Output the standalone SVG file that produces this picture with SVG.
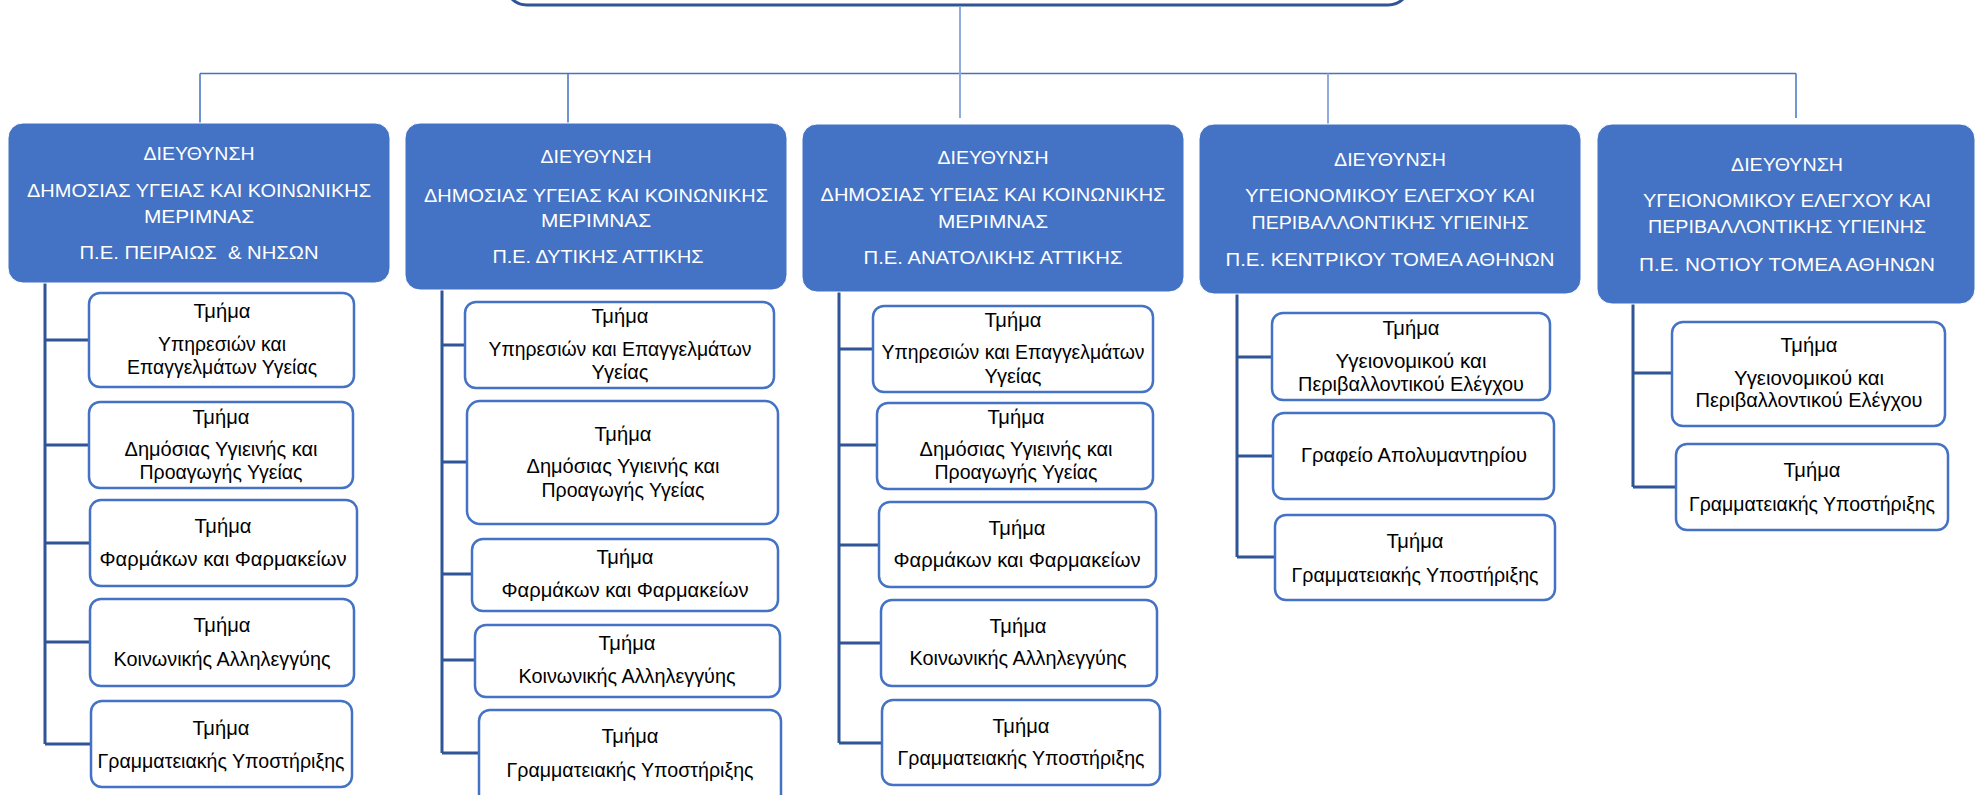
<svg xmlns="http://www.w3.org/2000/svg" width="1976" height="795" viewBox="0 0 1976 795">
<style>
.top{fill:#ffffff;stroke:#2F5597;stroke-width:3}
.hdr{fill:#4472C4;stroke:#ffffff;stroke-width:1}
.ht{font-family:"Liberation Sans","Noto Sans",sans-serif;font-size:19px;fill:#ffffff;text-anchor:middle}
.sub{fill:#ffffff;stroke:#4472C4;stroke-width:2.5}
.st{font-family:"Liberation Sans","Noto Sans",sans-serif;font-size:20px;fill:#000000;text-anchor:middle}
.spine{stroke:#2F5597;stroke-width:3;fill:none}
.conn{stroke:#4472C4;stroke-width:1.5;fill:none}
.connl{stroke:#8FAADC;stroke-width:2;fill:none}
</style>
<rect width="1976" height="795" fill="#ffffff"/>
<g id="top-node"><rect class="top" x="505" y="-60" width="905" height="65" rx="22"/></g>
<g id="connectors">
<line class="conn" x1="200" y1="73.5" x2="1796" y2="73.5"/>
<line class="conn" x1="200" y1="73.5" x2="200" y2="123"/>
<line class="conn" x1="568" y1="73.5" x2="568" y2="123"/>
<line class="connl" x1="960" y1="6" x2="960" y2="118"/>
<line class="connl" x1="1328" y1="73.5" x2="1328" y2="124"/>
<line class="conn" x1="1796" y1="73.5" x2="1796" y2="118"/>
<path class="spine" d="M45 283V744M45 340H89M45 445H89M45 543H90M45 642H90M45 744H91"/>
<path class="spine" d="M442 290V753M442 345H465M442 462H467M442 574H472M442 660H475M442 753H479"/>
<path class="spine" d="M839 292V743M839 349H873M839 445H877M839 545H879M839 643H881M839 743H882"/>
<path class="spine" d="M1237 294V557M1237 357H1272M1237 456H1273M1237 557H1275"/>
<path class="spine" d="M1633 304V487M1633 373H1672M1633 487H1676"/>
</g>
<g id="dir1"><rect class="hdr" x="8" y="123" width="382" height="160" rx="15"/>
<text class="ht" x="199" y="160" textLength="111" lengthAdjust="spacingAndGlyphs">ΔΙΕΥΘΥΝΣΗ</text>
<text class="ht" x="199" y="197" textLength="344" lengthAdjust="spacingAndGlyphs">ΔΗΜΟΣΙΑΣ ΥΓΕΙΑΣ ΚΑΙ ΚΟΙΝΩΝΙΚΗΣ</text>
<text class="ht" x="199" y="223" textLength="110" lengthAdjust="spacingAndGlyphs">ΜΕΡΙΜΝΑΣ</text>
<text class="ht" x="199" y="259" textLength="239" lengthAdjust="spacingAndGlyphs" xml:space="preserve">Π.Ε. ΠΕΙΡΑΙΩΣ  &amp; ΝΗΣΩΝ</text></g>
<g id="dir2"><rect class="hdr" x="405" y="123" width="382" height="167" rx="15"/>
<text class="ht" x="596" y="163" textLength="111" lengthAdjust="spacingAndGlyphs">ΔΙΕΥΘΥΝΣΗ</text>
<text class="ht" x="596" y="202" textLength="344" lengthAdjust="spacingAndGlyphs">ΔΗΜΟΣΙΑΣ ΥΓΕΙΑΣ ΚΑΙ ΚΟΙΝΩΝΙΚΗΣ</text>
<text class="ht" x="596" y="227" textLength="110" lengthAdjust="spacingAndGlyphs">ΜΕΡΙΜΝΑΣ</text>
<text class="ht" x="598" y="263" textLength="211" lengthAdjust="spacingAndGlyphs">Π.Ε. ΔΥΤΙΚΗΣ ΑΤΤΙΚΗΣ</text></g>
<g id="dir3"><rect class="hdr" x="802" y="124" width="382" height="168" rx="15"/>
<text class="ht" x="993" y="164" textLength="111" lengthAdjust="spacingAndGlyphs">ΔΙΕΥΘΥΝΣΗ</text>
<text class="ht" x="993" y="201" textLength="345" lengthAdjust="spacingAndGlyphs">ΔΗΜΟΣΙΑΣ ΥΓΕΙΑΣ ΚΑΙ ΚΟΙΝΩΝΙΚΗΣ</text>
<text class="ht" x="993" y="228" textLength="110" lengthAdjust="spacingAndGlyphs">ΜΕΡΙΜΝΑΣ</text>
<text class="ht" x="993" y="264" textLength="259" lengthAdjust="spacingAndGlyphs">Π.Ε. ΑΝΑΤΟΛΙΚΗΣ ΑΤΤΙΚΗΣ</text></g>
<g id="dir4"><rect class="hdr" x="1199" y="124" width="382" height="170" rx="15"/>
<text class="ht" x="1390" y="166" textLength="112" lengthAdjust="spacingAndGlyphs">ΔΙΕΥΘΥΝΣΗ</text>
<text class="ht" x="1390" y="202" textLength="290" lengthAdjust="spacingAndGlyphs">ΥΓΕΙΟΝΟΜΙΚΟΥ ΕΛΕΓΧΟΥ ΚΑΙ</text>
<text class="ht" x="1390" y="229" textLength="277" lengthAdjust="spacingAndGlyphs">ΠΕΡΙΒΑΛΛΟΝΤΙΚΗΣ ΥΓΙΕΙΝΗΣ</text>
<text class="ht" x="1390" y="266" textLength="329" lengthAdjust="spacingAndGlyphs">Π.Ε. ΚΕΝΤΡΙΚΟΥ ΤΟΜΕΑ ΑΘΗΝΩΝ</text></g>
<g id="dir5"><rect class="hdr" x="1597" y="124" width="378" height="180" rx="15"/>
<text class="ht" x="1787" y="171" textLength="112" lengthAdjust="spacingAndGlyphs">ΔΙΕΥΘΥΝΣΗ</text>
<text class="ht" x="1787" y="207" textLength="288" lengthAdjust="spacingAndGlyphs">ΥΓΕΙΟΝΟΜΙΚΟΥ ΕΛΕΓΧΟΥ ΚΑΙ</text>
<text class="ht" x="1787" y="233" textLength="278" lengthAdjust="spacingAndGlyphs">ΠΕΡΙΒΑΛΛΟΝΤΙΚΗΣ ΥΓΙΕΙΝΗΣ</text>
<text class="ht" x="1787" y="271" textLength="296" lengthAdjust="spacingAndGlyphs">Π.Ε. ΝΟΤΙΟΥ ΤΟΜΕΑ ΑΘΗΝΩΝ</text></g>

<g id="c1s1"><rect class="sub" x="89" y="293" width="265" height="94" rx="11"/>
<text class="st" x="222" y="318" textLength="57" lengthAdjust="spacingAndGlyphs">Τμήμα</text>
<text class="st" x="222" y="351" textLength="128" lengthAdjust="spacingAndGlyphs">Υπηρεσιών και</text>
<text class="st" x="222" y="374" textLength="190" lengthAdjust="spacingAndGlyphs">Επαγγελμάτων Υγείας</text></g>
<g id="c1s2"><rect class="sub" x="89" y="402" width="264" height="86" rx="11"/>
<text class="st" x="221" y="424" textLength="57" lengthAdjust="spacingAndGlyphs">Τμήμα</text>
<text class="st" x="221" y="456" textLength="193" lengthAdjust="spacingAndGlyphs">Δημόσιας Υγιεινής και</text>
<text class="st" x="221" y="479" textLength="163" lengthAdjust="spacingAndGlyphs">Προαγωγής Υγείας</text></g>
<g id="c1s3"><rect class="sub" x="90" y="500" width="267" height="86" rx="11"/>
<text class="st" x="223" y="533" textLength="57" lengthAdjust="spacingAndGlyphs">Τμήμα</text>
<text class="st" x="223" y="566" textLength="247" lengthAdjust="spacingAndGlyphs">Φαρμάκων και Φαρμακείων</text></g>
<g id="c1s4"><rect class="sub" x="90" y="599" width="264" height="87" rx="11"/>
<text class="st" x="222" y="632" textLength="57" lengthAdjust="spacingAndGlyphs">Τμήμα</text>
<text class="st" x="222" y="666" textLength="217" lengthAdjust="spacingAndGlyphs">Κοινωνικής Αλληλεγγύης</text></g>
<g id="c1s5"><rect class="sub" x="91" y="701" width="261" height="86" rx="11"/>
<text class="st" x="221" y="735" textLength="57" lengthAdjust="spacingAndGlyphs">Τμήμα</text>
<text class="st" x="221" y="768" textLength="247" lengthAdjust="spacingAndGlyphs">Γραμματειακής Υποστήριξης</text></g>

<g id="c2s1"><rect class="sub" x="465" y="302" width="309" height="86" rx="11"/>
<text class="st" x="620" y="323" textLength="57" lengthAdjust="spacingAndGlyphs">Τμήμα</text>
<text class="st" x="620" y="356" textLength="263" lengthAdjust="spacingAndGlyphs">Υπηρεσιών και Επαγγελμάτων</text>
<text class="st" x="620" y="379" textLength="57" lengthAdjust="spacingAndGlyphs">Υγείας</text></g>
<g id="c2s2"><rect class="sub" x="467" y="401" width="311" height="123" rx="13"/>
<text class="st" x="623" y="441" textLength="57" lengthAdjust="spacingAndGlyphs">Τμήμα</text>
<text class="st" x="623" y="473" textLength="193" lengthAdjust="spacingAndGlyphs">Δημόσιας Υγιεινής και</text>
<text class="st" x="623" y="497" textLength="163" lengthAdjust="spacingAndGlyphs">Προαγωγής Υγείας</text></g>
<g id="c2s3"><rect class="sub" x="472" y="539" width="306" height="72" rx="11"/>
<text class="st" x="625" y="564" textLength="57" lengthAdjust="spacingAndGlyphs">Τμήμα</text>
<text class="st" x="625" y="597" textLength="247" lengthAdjust="spacingAndGlyphs">Φαρμάκων και Φαρμακείων</text></g>
<g id="c2s4"><rect class="sub" x="475" y="625" width="305" height="72" rx="11"/>
<text class="st" x="627" y="650" textLength="57" lengthAdjust="spacingAndGlyphs">Τμήμα</text>
<text class="st" x="627" y="683" textLength="217" lengthAdjust="spacingAndGlyphs">Κοινωνικής Αλληλεγγύης</text></g>
<g id="c2s5"><rect class="sub" x="479" y="710" width="302" height="95" rx="11"/>
<text class="st" x="630" y="743" textLength="57" lengthAdjust="spacingAndGlyphs">Τμήμα</text>
<text class="st" x="630" y="777" textLength="247" lengthAdjust="spacingAndGlyphs">Γραμματειακής Υποστήριξης</text></g>

<g id="c3s1"><rect class="sub" x="873" y="306" width="280" height="86" rx="11"/>
<text class="st" x="1013" y="327" textLength="57" lengthAdjust="spacingAndGlyphs">Τμήμα</text>
<text class="st" x="1013" y="359" textLength="263" lengthAdjust="spacingAndGlyphs">Υπηρεσιών και Επαγγελμάτων</text>
<text class="st" x="1013" y="383" textLength="57" lengthAdjust="spacingAndGlyphs">Υγείας</text></g>
<g id="c3s2"><rect class="sub" x="877" y="403" width="276" height="86" rx="11"/>
<text class="st" x="1016" y="424" textLength="57" lengthAdjust="spacingAndGlyphs">Τμήμα</text>
<text class="st" x="1016" y="456" textLength="193" lengthAdjust="spacingAndGlyphs">Δημόσιας Υγιεινής και</text>
<text class="st" x="1016" y="479" textLength="163" lengthAdjust="spacingAndGlyphs">Προαγωγής Υγείας</text></g>
<g id="c3s3"><rect class="sub" x="879" y="502" width="277" height="85" rx="11"/>
<text class="st" x="1017" y="535" textLength="57" lengthAdjust="spacingAndGlyphs">Τμήμα</text>
<text class="st" x="1017" y="567" textLength="247" lengthAdjust="spacingAndGlyphs">Φαρμάκων και Φαρμακείων</text></g>
<g id="c3s4"><rect class="sub" x="881" y="600" width="276" height="86" rx="11"/>
<text class="st" x="1018" y="633" textLength="57" lengthAdjust="spacingAndGlyphs">Τμήμα</text>
<text class="st" x="1018" y="665" textLength="217" lengthAdjust="spacingAndGlyphs">Κοινωνικής Αλληλεγγύης</text></g>
<g id="c3s5"><rect class="sub" x="882" y="700" width="278" height="85" rx="11"/>
<text class="st" x="1021" y="733" textLength="57" lengthAdjust="spacingAndGlyphs">Τμήμα</text>
<text class="st" x="1021" y="765" textLength="247" lengthAdjust="spacingAndGlyphs">Γραμματειακής Υποστήριξης</text></g>

<g id="c4s1"><rect class="sub" x="1272" y="313" width="278" height="87" rx="11"/>
<text class="st" x="1411" y="335" textLength="57" lengthAdjust="spacingAndGlyphs">Τμήμα</text>
<text class="st" x="1411" y="368" textLength="151" lengthAdjust="spacingAndGlyphs">Υγειονομικού και</text>
<text class="st" x="1411" y="391" textLength="226" lengthAdjust="spacingAndGlyphs">Περιβαλλοντικού Ελέγχου</text></g>
<g id="c4s2"><rect class="sub" x="1273" y="413" width="281" height="86" rx="11"/>
<text class="st" x="1414" y="462" textLength="226" lengthAdjust="spacingAndGlyphs">Γραφείο Απολυμαντηρίου</text></g>
<g id="c4s3"><rect class="sub" x="1275" y="515" width="280" height="85" rx="11"/>
<text class="st" x="1415" y="548" textLength="57" lengthAdjust="spacingAndGlyphs">Τμήμα</text>
<text class="st" x="1415" y="582" textLength="247" lengthAdjust="spacingAndGlyphs">Γραμματειακής Υποστήριξης</text></g>

<g id="c5s1"><rect class="sub" x="1672" y="322" width="273" height="104" rx="11"/>
<text class="st" x="1809" y="352" textLength="57" lengthAdjust="spacingAndGlyphs">Τμήμα</text>
<text class="st" x="1809" y="385" textLength="150" lengthAdjust="spacingAndGlyphs">Υγειονομικού και</text>
<text class="st" x="1809" y="407" textLength="227" lengthAdjust="spacingAndGlyphs">Περιβαλλοντικού Ελέγχου</text></g>
<g id="c5s2"><rect class="sub" x="1676" y="444" width="272" height="86" rx="11"/>
<text class="st" x="1812" y="477" textLength="57" lengthAdjust="spacingAndGlyphs">Τμήμα</text>
<text class="st" x="1812" y="511" textLength="246" lengthAdjust="spacingAndGlyphs">Γραμματειακής Υποστήριξης</text></g>
</svg>
